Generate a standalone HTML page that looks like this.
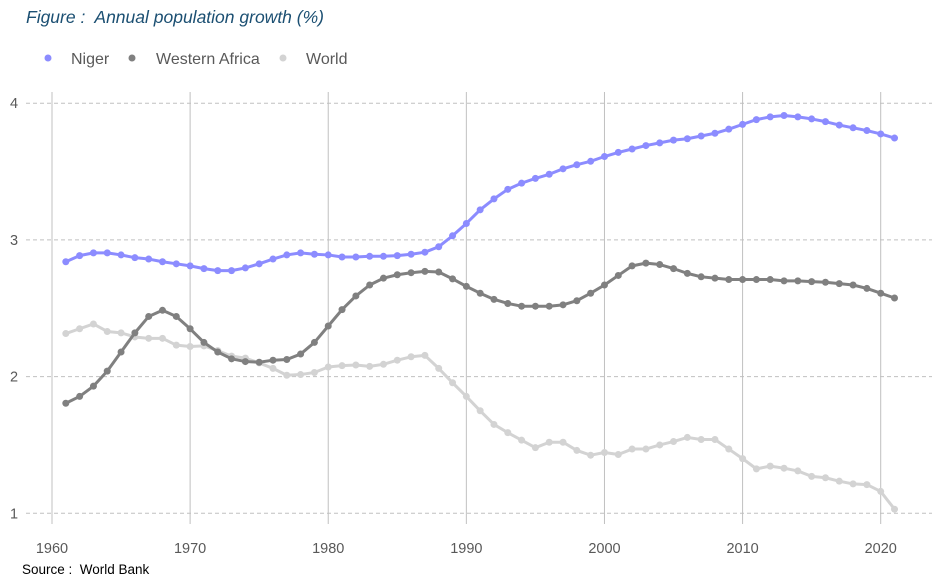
<!DOCTYPE html>
<html><head><meta charset="utf-8"><style>
html,body{margin:0;padding:0;background:#fff;}
svg{display:block;font-family:"Liberation Sans",sans-serif;}
</style></head><body>
<svg id="chart" width="944" height="584">
<text x="26" y="23" font-size="17.5" font-style="italic" fill="#1b4f72">Figure :&#160; Annual population growth (%)</text>
<g>
<g><circle cx="48" cy="58" r="3.5" fill="#8c8cff"/><text x="71" y="64" font-size="16" fill="#595959">Niger</text></g>
<g><circle cx="132" cy="58" r="3.5" fill="#808080"/><text x="156" y="64" font-size="16" fill="#595959">Western Africa</text></g>
<g><circle cx="283" cy="58" r="3.5" fill="#d3d3d3"/><text x="306" y="64" font-size="16" fill="#595959">World</text></g>
</g>
<g id="grid"></g><g id="axes"></g><g id="series"></g>
<text x="22" y="574" font-size="13.5" fill="#000">Source :&#160; World Bank</text>
</svg>
<script>
const years=[];for(let y=1961;y<=2021;y++)years.push(y);
const xTicks=[1960,1970,1980,1990,2000,2010,2020];
const yTicks=[1,2,3,4];
const niger=[2.84,2.885,2.905,2.905,2.89,2.87,2.86,2.84,2.825,2.81,2.79,2.775,2.775,2.795,2.825,2.86,2.89,2.905,2.895,2.89,2.875,2.875,2.88,2.88,2.885,2.895,2.91,2.95,3.03,3.12,3.22,3.30,3.37,3.415,3.45,3.48,3.52,3.55,3.575,3.61,3.64,3.665,3.69,3.71,3.73,3.74,3.76,3.78,3.81,3.845,3.88,3.90,3.91,3.90,3.885,3.865,3.84,3.82,3.80,3.775,3.745];
const westernAfrica=[1.805,1.855,1.93,2.04,2.18,2.32,2.44,2.485,2.44,2.35,2.25,2.18,2.13,2.11,2.105,2.12,2.125,2.165,2.25,2.37,2.49,2.59,2.67,2.72,2.745,2.76,2.77,2.765,2.715,2.66,2.61,2.565,2.535,2.515,2.515,2.515,2.525,2.555,2.61,2.67,2.74,2.81,2.83,2.82,2.79,2.755,2.73,2.72,2.71,2.71,2.71,2.71,2.70,2.70,2.695,2.69,2.68,2.67,2.645,2.61,2.575];
const world=[2.315,2.35,2.385,2.33,2.32,2.29,2.28,2.28,2.23,2.22,2.225,2.19,2.15,2.135,2.10,2.06,2.01,2.015,2.03,2.07,2.08,2.085,2.075,2.09,2.12,2.145,2.155,2.06,1.955,1.855,1.75,1.65,1.59,1.535,1.48,1.52,1.52,1.46,1.425,1.445,1.43,1.47,1.47,1.50,1.525,1.555,1.54,1.54,1.47,1.40,1.325,1.345,1.33,1.31,1.27,1.26,1.235,1.215,1.21,1.16,1.03];
const X=v=>52+(v-1960)*(828.7/60);
const Y=v=>513.3-(v-1)*136.7;
const NS="http://www.w3.org/2000/svg";
function mk(tag,attrs,parent){const e=document.createElementNS(NS,tag);for(const k in attrs)e.setAttribute(k,attrs[k]);parent.appendChild(e);return e;}
const grid=document.getElementById('grid'),axes=document.getElementById('axes'),ser=document.getElementById('series');
xTicks.forEach(t=>{
  const l=mk('line',{x1:X(t),x2:X(t),y1:92,y2:524,stroke:'#c0c0c0','stroke-width':1},grid);
  
  
  const tx=mk('text',{x:X(t),y:553,'font-size':14.5,fill:'#595959','text-anchor':'middle'},axes);
  tx.textContent=t;
  
  
});
yTicks.forEach(t=>{
  const l=mk('line',{x1:26,x2:932,y1:Y(t),y2:Y(t),stroke:'#c0c0c0','stroke-width':1,'stroke-dasharray':'4,3'},grid);
  
  
  const tx=mk('text',{x:14,y:Y(t)+5,'font-size':14.5,fill:'#595959','text-anchor':'middle'},axes);
  tx.textContent=t;
  
  
});
function draw(vals,color,name){
  const g=mk('g',{},ser);
  
  
  const p=mk('polyline',{points:vals.map((v,i)=>X(years[i])+','+Y(v)).join(' '),fill:'none',stroke:color,'stroke-width':3,'stroke-linejoin':'round'},g);
  
  
  vals.forEach((v,i)=>{
    const c=mk('circle',{cx:X(years[i]),cy:Y(v),r:3.5,fill:color},g);
    
    
  });
}
draw(world,'#d3d3d3','world');
draw(westernAfrica,'#808080','western-africa');
draw(niger,'#8c8cff','niger');
</script>
</body></html>
